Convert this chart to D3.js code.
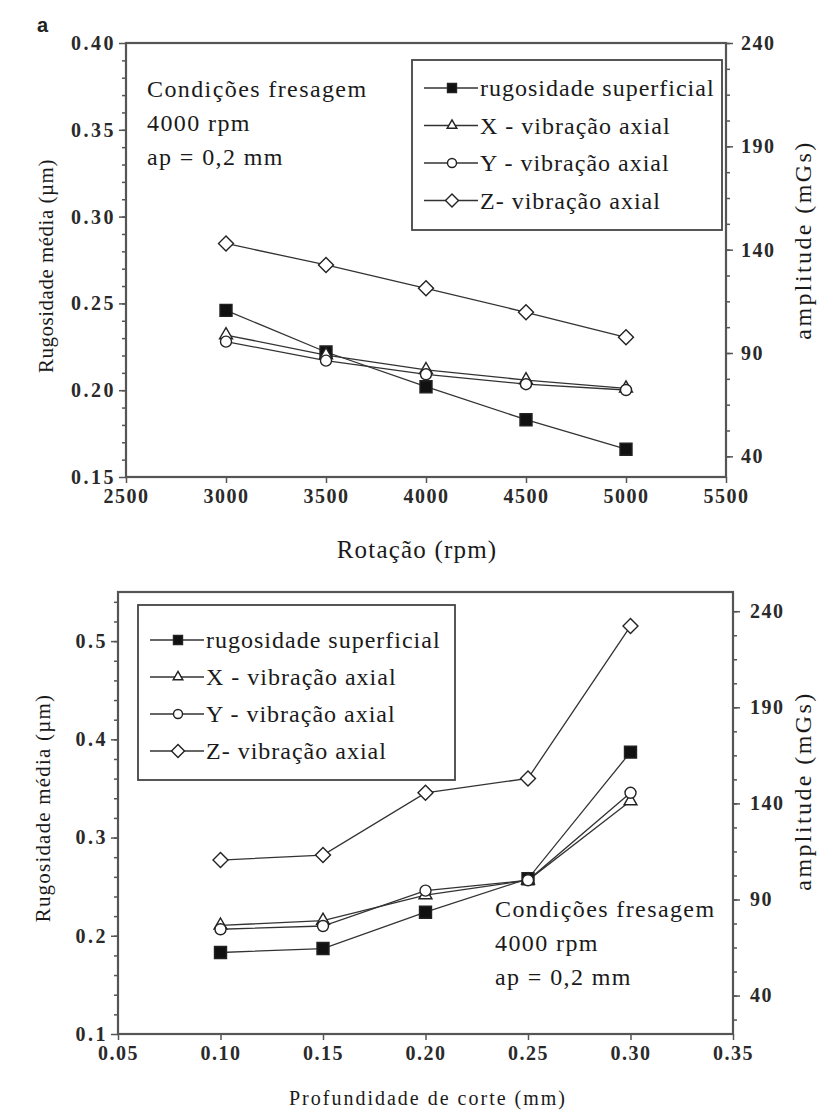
<!DOCTYPE html>
<html>
<head>
<meta charset="utf-8">
<script src="https://cdn.jsdelivr.net/npm/d3@7"></script>
<style>
  body { margin: 0; background: #fff; }
  svg { display: block; }
  .tick text { font-family: "Liberation Serif", serif; font-weight: bold; fill: #2a2a2a; }
</style>
</head>
<body>
<div id="chart"></div>
<script>
// ---- data ----
var rpm = [3000, 3500, 4000, 4500, 5000];
var topRug = [0.246, 0.222, 0.202, 0.183, 0.166];
var topX = [98.7, 89.0, 81.8, 76.9, 72.9];
var topY = [95.5, 86.3, 79.7, 74.9, 72.1];
var topZ = [143.0, 132.6, 121.3, 109.7, 97.6];

var depth = [0.10, 0.15, 0.20, 0.25, 0.30];
var botRug = [0.183, 0.187, 0.224, 0.258, 0.387];
var botX = [76.5, 79.0, 92.3, 100.0, 141.2];
var botY = [74.5, 76.2, 94.6, 100.0, 145.5];
var botZ = [110.5, 113.1, 145.5, 153.0, 232.3];

var topXTicks = [2500, 3000, 3500, 4000, 4500, 5000, 5500];
var topLeftTicks = [0.15, 0.20, 0.25, 0.30, 0.35, 0.40];
var topRightTicks = [40, 90, 140, 190, 240];
var botXTicks = [0.05, 0.10, 0.15, 0.20, 0.25, 0.30, 0.35];
var botLeftTicks = [0.1, 0.2, 0.3, 0.4, 0.5];
var botRightTicks = [40, 90, 140, 190, 240];

var legendLabels = ["rugosidade superficial", "X - vibração axial", "Y - vibração axial", "Z- vibração axial"];
var markerTypes = ["square", "triangle", "circle", "diamond"];
var noteLines = ["Condições fresagem", "4000 rpm", "ap = 0,2 mm"];

var w = 821, h = 1111;
var serif = "'Liberation Serif', 'Times New Roman', serif";

var svg = d3.select("#chart").append("svg")
    .attr("width", w)
    .attr("height", h);

var markerPath = function(type, s) {
    if (type == "square") return d3.symbol().type(d3.symbolSquare).size(s * s)();
    if (type == "triangle") return d3.symbol().type(d3.symbolTriangle).size(s * s * 0.5)();
    if (type == "circle") return d3.symbol().type(d3.symbolCircle).size(Math.PI * s * s / 4)();
    return d3.symbol().type(d3.symbolSquare).size(s * s / 2)();
};

var drawMarker = function(g, type, x, y, s) {
    g.append("path")
        .attr("d", markerPath(type, s))
        .attr("transform", "translate(" + x + "," + y + ")" + (type == "diamond" ? " rotate(45)" : ""))
        .attr("fill", type == "square" ? "#111" : "#fff")
        .attr("stroke", "#222")
        .attr("stroke-width", 1.4);
};

var label = function(g, size, spacing) {
    return g.style("font-family", serif)
        .style("font-size", size + "px")
        .style("letter-spacing", spacing + "px")
        .attr("fill", "#1a1a1a");
};

var drawPanel = function(p) {
    var x = d3.scaleLinear().domain(p.xDomain).range([p.left, p.right]);
    var yL = d3.scaleLinear().domain(p.lDomain).range([p.bottom, p.top]);
    var yR = d3.scaleLinear().domain(p.rDomain).range([p.bottom, p.top]);

    var g = svg.append("g");

    // minor ticks
    g.append("g")
        .attr("transform", "translate(" + p.left + ",0)")
        .call(d3.axisLeft(yL).tickValues(p.lMinor).tickSize(4).tickFormat(""))
        .call(function(a) { a.select(".domain").remove(); })
        .selectAll("line").attr("stroke", "#555").attr("stroke-width", 1.5);
    g.append("g")
        .attr("transform", "translate(" + p.right + ",0)")
        .call(d3.axisRight(yR).tickValues(p.rMinor).tickSize(4).tickFormat(""))
        .call(function(a) { a.select(".domain").remove(); })
        .selectAll("line").attr("stroke", "#555").attr("stroke-width", 1.5);

    // major axes
    var ax = g.append("g")
        .attr("transform", "translate(0," + p.bottom + ")")
        .call(d3.axisBottom(x).tickValues(p.xTicks).tickSize(6).tickPadding(6).tickFormat(d3.format(p.xFmt)));
    var al = g.append("g")
        .attr("transform", "translate(" + p.left + ",0)")
        .call(d3.axisLeft(yL).tickValues(p.lTicks).tickSize(7).tickPadding(3).tickFormat(d3.format(p.lFmt)));
    var ar = g.append("g")
        .attr("transform", "translate(" + p.right + ",0)")
        .call(d3.axisRight(yR).tickValues(p.rTicks).tickSize(7).tickPadding(p.rPad).tickFormat(d3.format("d")));
    [ax, al, ar].forEach(function(a) {
        a.select(".domain").remove();
        a.selectAll("line").attr("stroke", "#555").attr("stroke-width", 1.5);
        a.selectAll("text").style("font-size", "20px").style("letter-spacing", "1.5px");
    });
    al.selectAll("text").style("letter-spacing", "2.5px");

    // frame
    g.append("rect")
        .attr("x", p.left).attr("y", p.top)
        .attr("width", p.right - p.left).attr("height", p.bottom - p.top)
        .attr("fill", "none").attr("stroke", "#555").attr("stroke-width", 2.2);

    // legend
    var lg = g.append("g");
    lg.append("rect")
        .attr("x", p.leg.x).attr("y", p.leg.y)
        .attr("width", p.leg.w).attr("height", p.leg.h)
        .attr("fill", "#fff").attr("stroke", "#444").attr("stroke-width", 1.8);
    legendLabels.forEach(function(lab, i) {
        var cy = p.leg.y + p.leg.row0 + i * p.leg.step;
        lg.append("line")
            .attr("x1", p.leg.lx).attr("x2", p.leg.lx + 54)
            .attr("y1", cy).attr("y2", cy)
            .attr("stroke", "#333").attr("stroke-width", 1.3);
        drawMarker(lg, markerTypes[i], p.leg.lx + 28, cy, markerTypes[i] == "diamond" ? 13 : 9);
        label(lg.append("text"), 24, 1.0)
            .attr("x", p.leg.lx + 56).attr("y", cy + 8)
            .text(lab);
    });

    // series
    var series = [
        { vals: p.rug, y: yL, type: "square", s: 12 },
        { vals: p.sx, y: yR, type: "triangle", s: 12 },
        { vals: p.sy, y: yR, type: "circle", s: 11 },
        { vals: p.sz, y: yR, type: "diamond", s: 15 }
    ];
    series.forEach(function(s) {
        var line = d3.line()
            .x(function(d, i) { return x(p.xs[i]); })
            .y(function(d) { return s.y(d); });
        g.append("path")
            .attr("d", line(s.vals))
            .attr("fill", "none").attr("stroke", "#333").attr("stroke-width", 1.3);
    });
    series.forEach(function(s) {
        s.vals.forEach(function(v, i) {
            drawMarker(g, s.type, x(p.xs[i]), s.y(v), s.s);
        });
    });

    // note
    noteLines.forEach(function(t, i) {
        label(g.append("text"), 24, 1.4)
            .attr("x", p.note.x).attr("y", p.note.y + i * 34)
            .text(t);
    });

    // axis titles
    label(g.append("text"), 21, p.lTitle.sp)
        .attr("transform", "translate(" + p.lTitle.x + "," + p.lTitle.y + ") rotate(-90)")
        .attr("text-anchor", "middle")
        .text("Rugosidade média (µm)");
    label(g.append("text"), 24, 2.4)
        .attr("transform", "translate(" + p.rTitle.x + "," + p.rTitle.y + ") rotate(-90)")
        .attr("text-anchor", "middle")
        .text("amplitude (mGs)");
    label(g.append("text"), p.xTitle.size, p.xTitle.sp)
        .attr("x", p.xTitle.x).attr("y", p.xTitle.y)
        .attr("text-anchor", "middle")
        .text(p.xTitle.text);
};

drawPanel({
    left: 126, right: 726, top: 43, bottom: 477,
    xDomain: [2500, 5500], lDomain: [0.15, 0.40], rDomain: [30, 240], rPad: 8,
    xTicks: topXTicks, lTicks: topLeftTicks, rTicks: topRightTicks,
    xFmt: "d", lFmt: ".2f",
    lMinor: d3.range(16, 40).map(function(d) { return d / 100; }),
    rMinor: d3.range(40, 241, 12.5),
    xs: rpm, rug: topRug, sx: topX, sy: topY, sz: topZ,
    leg: { x: 412, y: 60, w: 310, h: 170, lx: 424, row0: 28, step: 37.5 },
    note: { x: 147, y: 97 },
    lTitle: { x: 53, y: 266, sp: 0.5 },
    rTitle: { x: 811, y: 240 },
    xTitle: { x: 417, y: 558, size: 25, sp: 1.2, text: "Rotação (rpm)" }
});

drawPanel({
    left: 118, right: 733, top: 592, bottom: 1034,
    xDomain: [0.05, 0.35], lDomain: [0.1, 0.55], rDomain: [20, 250], rPad: 10,
    xTicks: botXTicks, lTicks: botLeftTicks, rTicks: botRightTicks,
    xFmt: ".2f", lFmt: ".1f",
    lMinor: d3.range(12, 55, 2).map(function(d) { return d / 100; }),
    rMinor: d3.range(27.5, 250, 12.5),
    xs: depth, rug: botRug, sx: botX, sy: botY, sz: botZ,
    leg: { x: 138, y: 605, w: 317, h: 175, lx: 150, row0: 35, step: 37 },
    note: { x: 495, y: 917 },
    lTitle: { x: 50, y: 808, sp: 1.2 },
    rTitle: { x: 811, y: 791 },
    xTitle: { x: 428, y: 1105, size: 20, sp: 2, text: "Profundidade de corte (mm)" }
});

// panel letter
svg.append("text")
    .attr("x", 37).attr("y", 32)
    .style("font-family", "'Liberation Sans', Arial, sans-serif")
    .style("font-size", "20px").style("font-weight", "bold").attr("fill", "#222")
    .text("a");
</script>
</body>
</html>
